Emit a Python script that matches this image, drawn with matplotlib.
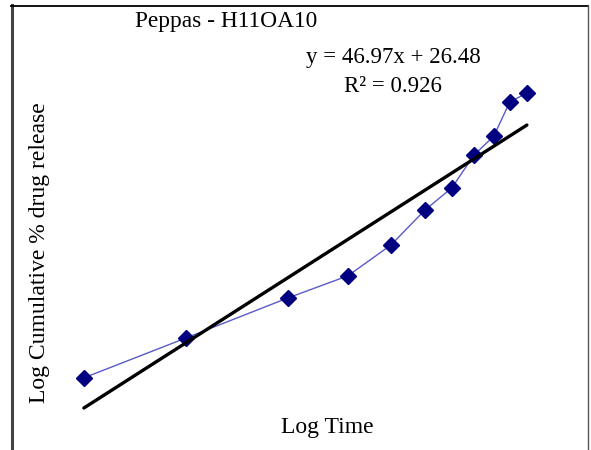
import numpy as np
import matplotlib
matplotlib.use("Agg")
import matplotlib.pyplot as plt
from matplotlib.lines import Line2D

# Peppas model data (log time vs log cumulative % drug release)
log_time = [-0.30, 0.045, 0.391, 0.594, 0.740, 0.855, 0.946, 1.021, 1.088, 1.142, 1.200]
log_release = [19.9, 29.8, 39.8, 45.3, 53.0, 61.7, 67.2, 75.4, 80.1, 88.6, 90.8]

slope = 46.97
intercept = 26.48
r2 = 0.926

plt.rcParams['font.family'] = ['Liberation Serif', 'DejaVu Serif']

fig = plt.figure(figsize=(5.91, 4.5), dpi=100)
ax = fig.add_axes([0, 0, 1, 1])
ax.set_xlim(-0.584, 1.417)
ax.set_ylim(1.93, 113.98)
ax.axis('off')

# data series
ax.plot(log_time, log_release, color='#5a5ac8', lw=1.0, marker='D',
        markersize=8, markerfacecolor='#000080', markeredgecolor='#000080')

# linear trendline
xt = np.array([log_time[0], log_time[-1]])
ax.plot(xt, slope * xt + intercept, color='black', lw=2.4, solid_capstyle='round')

# texts
fig.text(226 / 591, 1 - 22 / 450, 'Peppas - H11OA10', ha='center', va='center', fontsize=16.8)
fig.text(393 / 591, 1 - 58 / 450, f'y = {slope}x + {intercept}', ha='center', va='center', fontsize=16.5)
fig.text(393 / 591, 1 - 86 / 450, f'R² = {r2}', ha='center', va='center', fontsize=16.5)
fig.text(327 / 591, 1 - 428 / 450, 'Log Time', ha='center', va='center', fontsize=17)
fig.text(40 / 591, 1 - 253 / 450, 'Log Cumulative % drug release', ha='center', va='center',
         rotation=90, fontsize=17)

# frame around the chart (bottom is cut off)
fig.add_artist(Line2D([12 / 591, 12 / 591], [0, 1 - 5 / 450], transform=fig.transFigure,
                      color='#444444', lw=2.2))
fig.add_artist(Line2D([11 / 591, 588 / 591], [1 - 5.5 / 450, 1 - 5.5 / 450], transform=fig.transFigure,
                      color='black', lw=1.3))
fig.add_artist(Line2D([588 / 591, 588 / 591], [0, 1 - 5 / 450], transform=fig.transFigure,
                      color='#555555', lw=1.0))

fig.savefig('out.png', dpi=100)
